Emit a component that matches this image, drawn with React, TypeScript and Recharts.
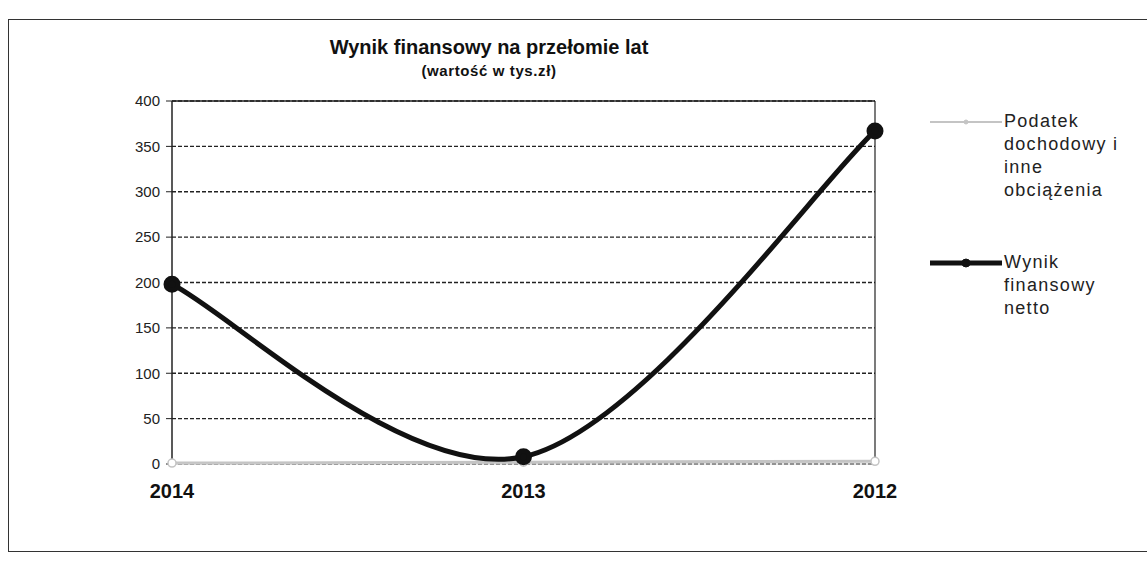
import React from "react";
import { LineChart, Line, XAxis, YAxis, CartesianGrid, Legend, ReferenceLine } from "recharts";

const years = ["2014", "2013", "2012"];
const podatek = [1, 2, 3];
const wynik = [198, 8, 367];
const yTicks = [0, 50, 100, 150, 200, 250, 300, 350, 400];

const data = years.map((y, i) => ({ year: y, podatek: podatek[i], wynik: wynik[i] }));

// Excel-style smoothed line (Catmull-Rom through the points)
const excelSmooth = (context: any) => {
  let pts: number[][] = [];
  return {
    areaStart() {},
    areaEnd() {},
    lineStart() {
      pts = [];
    },
    point(x: number, y: number) {
      pts.push([+x, +y]);
    },
    lineEnd() {
      if (!pts.length) return;
      context.moveTo(pts[0][0], pts[0][1]);
      for (let i = 0; i < pts.length - 1; i++) {
        const p0 = pts[i - 1] || pts[i];
        const p1 = pts[i];
        const p2 = pts[i + 1];
        const p3 = pts[i + 2] || pts[i + 1];
        const c1x = p1[0] + (p2[0] - p0[0]) / 6;
        const c1y = p1[1] + (p2[1] - p0[1]) / 6;
        const c2x = p2[0] - (p3[0] - p1[0]) / 6;
        const c2y = p2[1] - (p3[1] - p1[1]) / 6;
        context.bezierCurveTo(c1x, c1y, c2x, c2y, p2[0], p2[1]);
      }
    },
  };
};

const legendItems = [
  { key: "podatek", lines: ["Podatek", "dochodowy i", "inne", "obciążenia"], color: "#c4c4c4", w: 2, r: 2 },
  { key: "wynik", lines: ["Wynik", "finansowy", "netto"], color: "#111", w: 5, r: 4 },
];

const renderLegend = () => (
  <div style={{ fontFamily: "'Liberation Sans', Arial, sans-serif", fontSize: 18, color: "#222", letterSpacing: 1.3 }}>
    {legendItems.map((it, idx) => (
      <div key={it.key} style={{ display: "flex", alignItems: "flex-start", marginBottom: idx === 0 ? 50 : 0 }}>
        <svg width={76} height={22} style={{ flex: "none" }}>
          <line x1={2} y1={11} x2={74} y2={11} stroke={it.color} strokeWidth={it.w} />
          <circle cx={38} cy={11} r={it.r} fill={it.color} stroke={it.color} />
        </svg>
        <div style={{ lineHeight: "23px", marginTop: -1 }}>
          {it.lines.map((l) => (
            <div key={l}>{l}</div>
          ))}
        </div>
      </div>
    ))}
  </div>
);

export default function App() {
  return (
    <div style={{ position: "absolute", left: 0, top: 0, width: 1147, height: 570, overflow: "hidden", background: "#fff" }}>
      <div style={{ position: "absolute", left: 8, top: 19, width: 1170, height: 533, border: "1.5px solid #333", boxSizing: "border-box" }} />
      <div style={{ position: "absolute", left: 0, top: 36, width: 978, textAlign: "center", fontFamily: "'Liberation Sans Narrow', 'Liberation Sans', Arial, sans-serif", fontWeight: "bold", fontSize: 20, color: "#111" }}>
        Wynik finansowy na przełomie lat
      </div>
      <div style={{ position: "absolute", left: 0, top: 62, width: 978, textAlign: "center", fontFamily: "'Liberation Sans Narrow', 'Liberation Sans', Arial, sans-serif", fontWeight: "bold", fontSize: 15, letterSpacing: 0.6, color: "#111" }}>
        (wartość w tys.zł)
      </div>
      <div style={{ position: "absolute", left: 0, top: 0 }}>
        <LineChart width={1147} height={570} data={data} margin={{ top: 101, right: 272, bottom: 66, left: 112 }}>
          <CartesianGrid vertical={false} stroke="#222" strokeDasharray="4 2" strokeWidth={1.3} />
          <XAxis
            dataKey="year"
            axisLine={{ stroke: "#ccc" }}
            tickLine={false}
            height={40}
            tick={{ fill: "#111", fontSize: 20, fontWeight: "bold", fontFamily: "'Liberation Sans', Arial, sans-serif" }}
            tickMargin={14}
          />
          <YAxis
            domain={[0, 400]}
            ticks={yTicks}
            width={60}
            axisLine={{ stroke: "#222", strokeWidth: 1.5 }}
            tickLine={{ stroke: "#222" }}
            tickSize={6}
            tick={{ fill: "#222", fontSize: 15, fontFamily: "'Liberation Sans', Arial, sans-serif" }}
            tickMargin={6}
          />
          <ReferenceLine y={400} stroke="#222" strokeWidth={1.5} />
          <ReferenceLine x="2012" stroke="#222" strokeWidth={1.2} />
          <Legend
            layout="vertical"
            align="center"
            verticalAlign="middle"
            content={renderLegend}
            wrapperStyle={{ position: "absolute", left: 928, top: 111, width: 220 }}
          />
          <Line
            type={excelSmooth as any}
            dataKey="podatek"
            name="Podatek dochodowy i inne obciążenia"
            stroke="#c4c4c4"
            strokeWidth={3}
            dot={{ r: 4, fill: "#fff", stroke: "#c4c4c4", strokeWidth: 1.5 }}
            isAnimationActive={false}
          />
          <Line
            type={excelSmooth as any}
            dataKey="wynik"
            name="Wynik finansowy netto"
            stroke="#111"
            strokeWidth={5}
            dot={{ r: 6, fill: "#111", stroke: "#111" }}
            isAnimationActive={false}
          />
        </LineChart>
      </div>
    </div>
  );
}
